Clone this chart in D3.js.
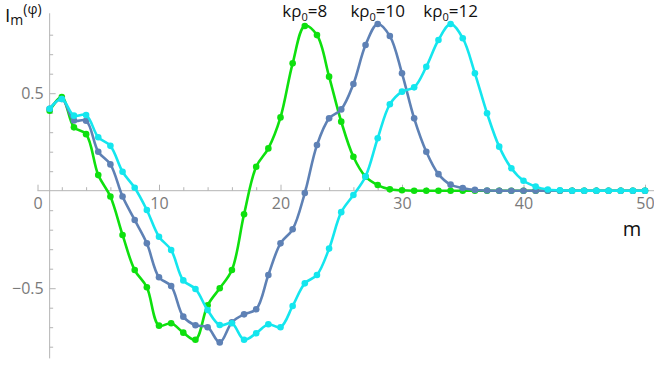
<!DOCTYPE html>
<html>
<head>
<meta charset="utf-8">
<script src="https://cdn.jsdelivr.net/npm/d3@7"></script>
<style>
  html, body { margin: 0; padding: 0; background: #fff; }
  svg { display: block; font-family: "Open Sans", "DejaVu Sans", sans-serif; }
</style>
</head>
<body>
<svg id="chart" width="654" height="367"></svg>
<script>
// Angular index m = 1..50
const mValues = d3.range(1, 51);

// I_m^(φ) for kρ0 = 8
const series8 = [
  0.41, 0.48, 0.325, 0.29, 0.08, -0.03, -0.227, -0.407, -0.495, -0.692,
  -0.68, -0.728, -0.764, -0.588, -0.50, -0.407, -0.121, 0.123, 0.217, 0.376,
  0.653, 0.845, 0.798, 0.585, 0.354, 0.174, 0.072, 0.029, 0.007, 0.002,
  0, 0, 0, 0, 0, 0, 0, 0, 0, 0,
  0, 0, 0, 0, 0, 0, 0, 0, 0, 0
];
// I_m^(φ) for kρ0 = 10
const series10 = [
  0.42, 0.47, 0.36, 0.359, 0.2, 0.135, -0.03, -0.15, -0.27, -0.444,
  -0.489, -0.646, -0.69, -0.70, -0.778, -0.675, -0.634, -0.608, -0.432, -0.27,
  -0.198, -0.012, 0.234, 0.371, 0.417, 0.547, 0.747, 0.855, 0.793, 0.602,
  0.371, 0.2, 0.085, 0.031, 0.014, 0.004, 0.001, 0, 0, 0,
  0, 0, 0, 0, 0, 0, 0, 0, 0, 0
];
// I_m^(φ) for kρ0 = 12
const series12 = [
  0.42, 0.47, 0.385, 0.388, 0.274, 0.23, 0.097, 0.015, -0.099, -0.236,
  -0.304, -0.46, -0.504, -0.612, -0.689, -0.68, -0.764, -0.731, -0.685, -0.70,
  -0.591, -0.475, -0.432, -0.297, -0.11, -0.022, 0.073, 0.269, 0.443, 0.508,
  0.53, 0.636, 0.773, 0.855, 0.782, 0.602, 0.397, 0.226, 0.115, 0.051,
  0.021, 0.006, 0.002, 0, 0, 0, 0, 0, 0, 0
];

const seriesNames = ["8", "10", "12"];
const seriesColors = ["#0ee00e", "#5e81b5", "#14e6ee"];
const seriesValues = [series8, series10, series12];
// m position of each series' label (its peak)
const labelAt = [22, 28, 34];

const xTickLabels = [0, 10, 20, 30, 40, 50];
const yTickLabels = [-0.5, 0.5];

const svg = d3.select("#chart");

const x = d3.scaleLinear().domain([0, 50]).range([37.5, 645]);
const y = d3.scaleLinear().domain([-0.5, 0.5]).range([288.2, 93.2]);

const axisColor = "#b4b4b4";
const labelColor = "#7a7a7a";

// ---- axes ----
const axes = svg.append("g");

// x axis (horizontal line at 0, ticks pointing up)
const xMinor = d3.range(0, 51, 2).filter(v => v % 10 !== 0);
const xAxisG = axes.append("g").attr("transform", `translate(0,${y(0)})`);
xAxisG.append("line")
  .attr("x1", x(0)).attr("x2", 654)
  .attr("stroke", axisColor).attr("stroke-width", 1);
xAxisG.call(g => {
  const ax = d3.axisBottom(x).tickValues(xTickLabels).tickSize(-6).tickPadding(7)
    .tickFormat(d3.format("d"));
  g.append("g").call(ax).call(s => {
    s.select(".domain").remove();
    s.selectAll(".tick line").attr("stroke", axisColor);
    s.selectAll(".tick text").attr("fill", labelColor)
      .style("font-size", "16px").style("font-family", "Open Sans, sans-serif");
  });
  g.append("g").call(d3.axisBottom(x).tickValues(xMinor).tickSize(-3.5).tickFormat(""))
    .call(s => {
      s.select(".domain").remove();
      s.selectAll(".tick line").attr("stroke", axisColor);
    });
});

// y axis (vertical line at m = 1, ticks pointing right)
const yMinor = d3.range(-8, 9).map(v => v / 10).filter(v => Math.abs(v) !== 0.5 && v !== 0);
const yAxisG = axes.append("g").attr("transform", `translate(${x(1)},0)`);
yAxisG.append("line")
  .attr("y1", y(0.91)).attr("y2", y(-0.86))
  .attr("stroke", axisColor).attr("stroke-width", 1);
yAxisG.append("g")
  .call(d3.axisLeft(y).tickValues(yTickLabels).tickSize(-6).tickPadding(6)
    .tickFormat(d => d < 0 ? "\u2212" + Math.abs(d) : String(d)))
  .call(s => {
    s.select(".domain").remove();
    s.selectAll(".tick line").attr("stroke", axisColor);
    s.selectAll(".tick text").attr("fill", labelColor)
      .style("font-size", "16px").style("font-family", "Open Sans, sans-serif");
  });
yAxisG.append("g")
  .call(d3.axisLeft(y).tickValues(yMinor).tickSize(-3.5).tickFormat(""))
  .call(s => {
    s.select(".domain").remove();
    s.selectAll(".tick line").attr("stroke", axisColor);
  });

// ---- curves ----
const line = d3.line()
  .x((d, i) => x(mValues[i]))
  .y(d => y(d))
  .curve(d3.curveCatmullRom.alpha(0.5));

seriesValues.forEach((vals, k) => {
  const g = svg.append("g");
  g.append("path")
    .datum(vals)
    .attr("d", line)
    .attr("fill", "none")
    .attr("stroke", seriesColors[k])
    .attr("stroke-width", 2.6)
    .attr("stroke-linejoin", "round");
  g.selectAll("circle")
    .data(vals)
    .join("circle")
    .attr("cx", (d, i) => x(mValues[i]))
    .attr("cy", d => y(d))
    .attr("r", 3.3)
    .attr("fill", seriesColors[k]);
});

// ---- series labels above the peaks ----
seriesNames.forEach((name, k) => {
  const t = svg.append("text")
    .attr("x", x(labelAt[k]))
    .attr("y", 17)
    .attr("text-anchor", "middle")
    .attr("fill", "#111")
    .style("font-size", "17px");
  t.append("tspan").text("k\u03c1");
  t.append("tspan").text("0").attr("dy", 4).style("font-size", "11px");
  t.append("tspan").text("=" + name).attr("dy", -4);
});

// ---- axis titles ----
const yTitle = svg.append("text")
  .attr("x", 5).attr("y", 22)
  .attr("fill", "#111")
  .style("font-size", "19px");
yTitle.append("tspan").text("I");
yTitle.append("tspan").text("m").attr("dy", 3).style("font-size", "14px");
yTitle.append("tspan").text("(\u03c6)").attr("dy", -11).style("font-size", "14px");

svg.append("text")
  .attr("x", 632).attr("y", 236)
  .attr("text-anchor", "middle")
  .attr("fill", "#111")
  .style("font-size", "20px")
  .text("m");
</script>
</body>
</html>
